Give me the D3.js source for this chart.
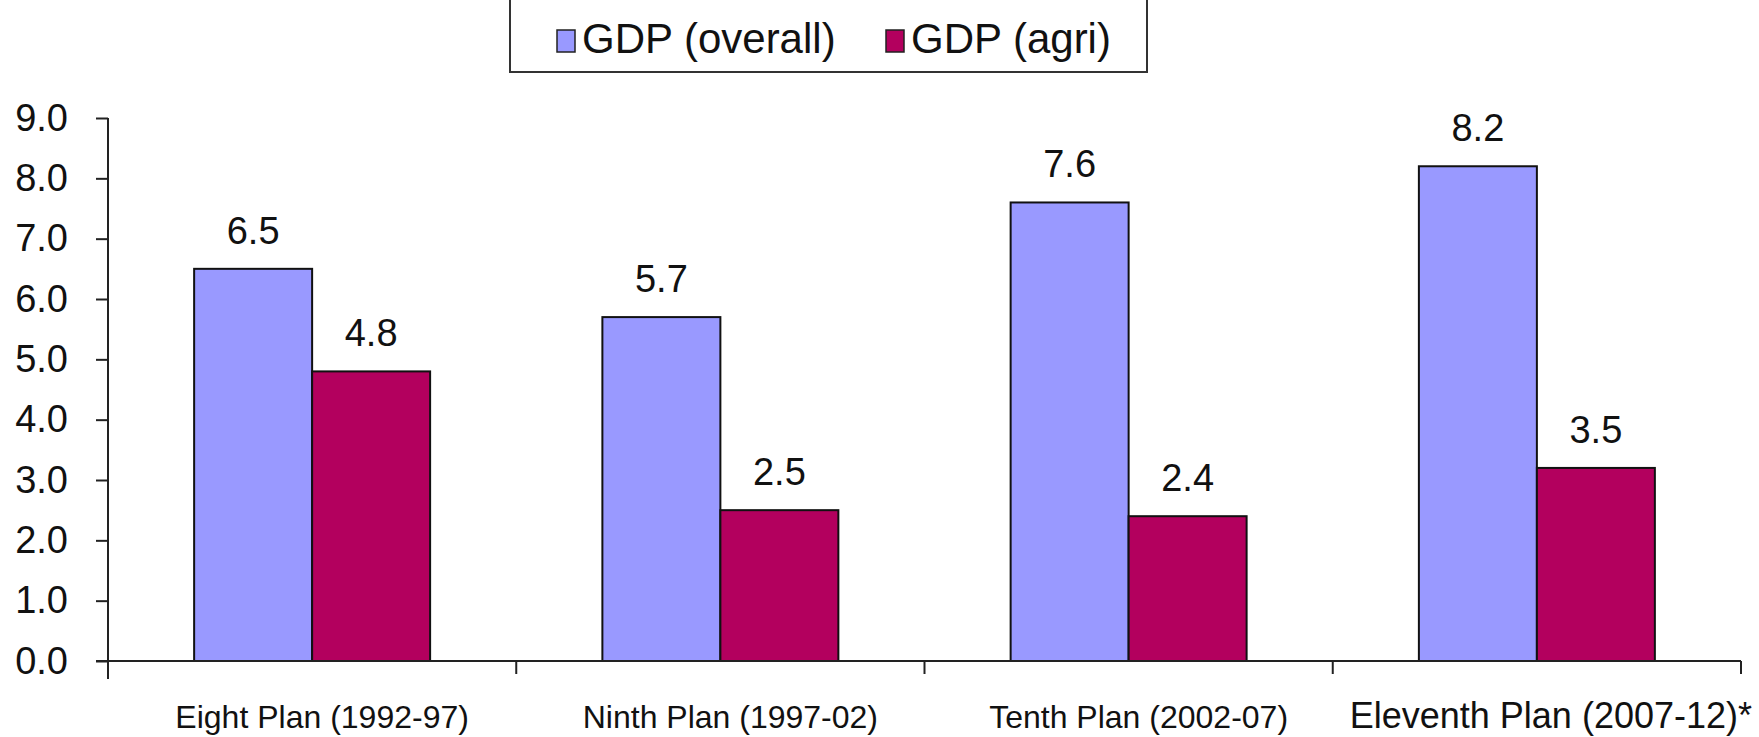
<!DOCTYPE html>
<html>
<head>
<meta charset="utf-8">
<script src="https://cdn.jsdelivr.net/npm/d3@7"></script>
<style>
  html, body { margin: 0; padding: 0; background: #fff; }
  svg { display: block; font-family: "Liberation Sans", Arial, sans-serif; }
</style>
</head>
<body>
<svg id="chart" width="1759" height="737"></svg>
<script>
const categories = ["Eight Plan (1992-97)", "Ninth Plan (1997-02)", "Tenth Plan (2002-07)", "Eleventh Plan (2007-12)*"];
const seriesNames = ["GDP (overall)", "GDP (agri)"];
const gdpOverall = [6.5, 5.7, 7.6, 8.2];
const gdpAgri = [4.8, 2.5, 2.4, 3.2];
const labelsOverall = ["6.5", "5.7", "7.6", "8.2"];
const labelsAgri = ["4.8", "2.5", "2.4", "3.5"];
const yTicks = [0, 1, 2, 3, 4, 5, 6, 7, 8, 9];

const colors = ["#9999ff", "#b3005e"];
const axisColor = "#222";

const svg = d3.select("#chart");
const x0 = d3.scaleBand().domain(categories).range([108, 1741]).paddingInner(0).paddingOuter(0);
const x1 = d3.scaleBand().domain(seriesNames).range([0, x0.bandwidth()]).paddingInner(0).paddingOuter(0.73);
const y = d3.scaleLinear().domain([0, 9]).range([661, 118]);

const rows = categories.map((c, i) => ({
  cat: c,
  vals: [
    { s: seriesNames[0], v: gdpOverall[i], label: labelsOverall[i] },
    { s: seriesNames[1], v: gdpAgri[i], label: labelsAgri[i] }
  ]
}));

// Bars
const groups = svg.append("g").selectAll("g").data(rows).join("g")
  .attr("transform", d => `translate(${x0(d.cat)},0)`);
groups.selectAll("rect").data(d => d.vals).join("rect")
  .attr("x", d => x1(d.s))
  .attr("y", d => y(d.v))
  .attr("width", x1.bandwidth())
  .attr("height", d => y(0) - y(d.v))
  .attr("fill", (d, i) => colors[i])
  .attr("stroke", "#111")
  .attr("stroke-width", 2);
groups.selectAll("text").data(d => d.vals).join("text")
  .attr("x", d => x1(d.s) + x1.bandwidth() / 2)
  .attr("y", d => y(d.v) - 25)
  .attr("text-anchor", "middle")
  .style("font-size", "38px")
  .attr("fill", "#111")
  .text(d => d.label);

// Y axis
const yAxis = d3.axisLeft(y).tickValues(yTicks).tickFormat(d3.format(".1f")).tickSize(12).tickPadding(28);
const gy = svg.append("g").attr("transform", "translate(108,0)").call(yAxis);
gy.select(".domain").remove();
gy.selectAll(".tick line").attr("stroke", axisColor).attr("stroke-width", 2);
gy.selectAll(".tick text").style("font-size", "38px").style("font-family", "'Liberation Sans', Arial, sans-serif").attr("fill", "#111");
svg.append("line").attr("x1", 108).attr("x2", 108).attr("y1", y(9)).attr("y2", y(0) + 18)
  .attr("stroke", axisColor).attr("stroke-width", 2);

// X axis
svg.append("line").attr("x1", 96).attr("x2", x0.range()[1]).attr("y1", y(0)).attr("y2", y(0))
  .attr("stroke", axisColor).attr("stroke-width", 2);
const bounds = categories.map(c => x0(c)).concat([x0.range()[1]]);
svg.append("g").selectAll("line").data(bounds.slice(1)).join("line")
  .attr("x1", d => d).attr("x2", d => d)
  .attr("y1", y(0)).attr("y2", y(0) + 13)
  .attr("stroke", axisColor).attr("stroke-width", 2);
svg.append("g").selectAll("text").data(categories).join("text")
  .attr("x", (d, i) => x0(d) + x0.bandwidth() / 2 + (i === 3 ? 14 : 10))
  .attr("y", 728)
  .attr("text-anchor", "middle")
  .style("font-size", (d, i) => i === 3 ? "36px" : "32px")
  .attr("fill", "#111")
  .text(d => d);

// Legend
const legend = svg.append("g");
legend.append("rect").attr("x", 510).attr("y", -10).attr("width", 637).attr("height", 82)
  .attr("fill", "#fff").attr("stroke", "#333").attr("stroke-width", 2);
const legendX = [557, 886];
seriesNames.forEach((s, i) => {
  legend.append("rect").attr("x", legendX[i]).attr("y", 30).attr("width", 18).attr("height", 22)
    .attr("fill", colors[i]).attr("stroke", "#222").attr("stroke-width", 1.5);
  legend.append("text").attr("x", legendX[i] + 25).attr("y", 53)
    .style("font-size", "42px").attr("fill", "#111").text(s);
});
</script>
</body>
</html>
